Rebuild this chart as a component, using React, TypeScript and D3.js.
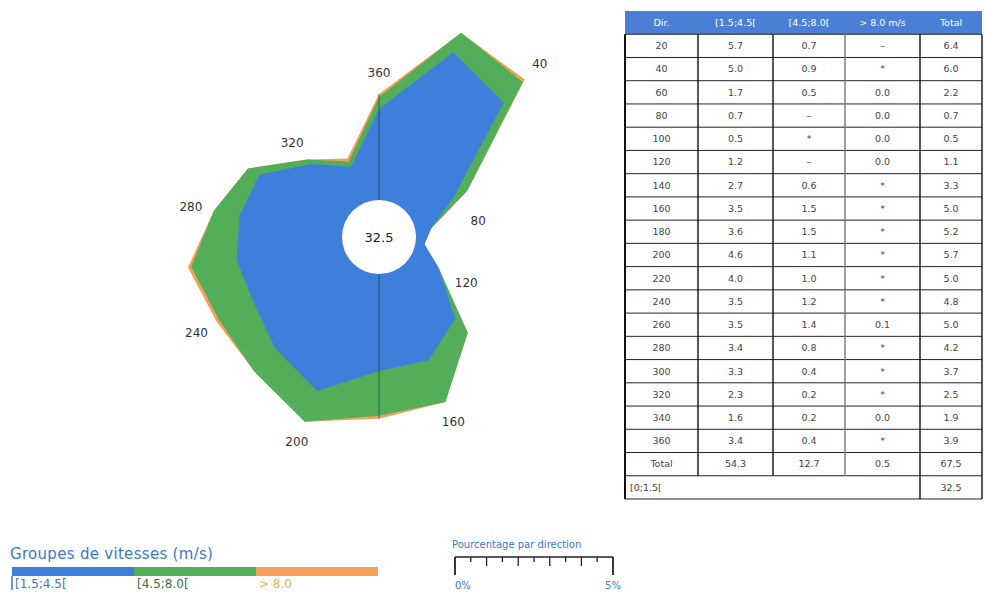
import * as d3 from "d3";

// wind rose: share (%) of time per direction and speed group
const directions = [20, 40, 60, 80, 100, 120, 140, 160, 180, 200, 220, 240, 260, 280, 300, 320, 340, 360];
const lowCol = ["5.7", "5.0", "1.7", "0.7", "0.5", "1.2", "2.7", "3.5", "3.6", "4.6", "4.0", "3.5", "3.5", "3.4", "3.3", "2.3", "1.6", "3.4"];
const midCol = ["0.7", "0.9", "0.5", "–", "*", "–", "0.6", "1.5", "1.5", "1.1", "1.0", "1.2", "1.4", "0.8", "0.4", "0.2", "0.2", "0.4"];
const highCol = ["–", "*", "0.0", "0.0", "0.0", "0.0", "*", "*", "*", "*", "*", "*", "0.1", "*", "*", "*", "0.0", "*"];
const totalCol = ["6.4", "6.0", "2.2", "0.7", "0.5", "1.1", "3.3", "5.0", "5.2", "5.7", "5.0", "4.8", "5.0", "4.2", "3.7", "2.5", "1.9", "3.9"];
const totalRow = ["Total", "54.3", "12.7", "0.5", "67.5"];
const calmLabel = "[0;1.5[";
const calmValue = "32.5";
const headers = ["Dir.", "[1.5;4.5[", "[4.5;8.0[", "> 8.0 m/s", "Total"];
const groups = ["[1.5;4.5[", "[4.5;8.0[", "> 8.0"];
const colors = ["#3f7fdc", "#52ae58", "#f4a05a"];
const labelColors = ["#3a78c8", "#3f6b45", "#e6b04a"];

const num = (s: string) => (isNaN(+s) ? 0 : +s);

const cx = 379;
const cy = 237;
// the scanned rose is a bit wider than tall
const sx = 1.06;
const sy = 0.96;
const r = d3.scaleLinear().domain([0, 5]).range([28, 28 + 5 * 31]);

type Pt = { dir: number; v: number };

const App = () => {
  const low = lowCol.map(num);
  const lowMid = lowCol.map((d, i) => num(d) + num(midCol[i]));
  const tot = totalCol.map(num);

  const pos = (dir: number, rad: number) => {
    const a = (dir * Math.PI) / 180;
    return [Math.sin(a) * rad * sx, -Math.cos(a) * rad * sy];
  };

  const line = d3
    .line<Pt>()
    .x((d) => pos(d.dir, r(d.v))[0])
    .y((d) => pos(d.dir, r(d.v))[1])
    .curve(d3.curveLinearClosed);

  const layers = [tot, lowMid, low].map((vals) =>
    line(directions.map((dir, i) => ({ dir, v: vals[i] }))) ?? ""
  );
  const layerColors = [colors[2], colors[1], colors[0]];

  // table layout
  const colEdges = [625, 698, 773, 845, 920, 982];
  const rowKeys = ["head", ...directions.map(String), "total", "calm"];
  const y = d3.scaleBand().domain(rowKeys).range([11, 499]);
  const bh = y.bandwidth();
  const colMid = (i: number) => (colEdges[i] + colEdges[i + 1]) / 2;
  const rows = directions.map((d, i) => [String(d), lowCol[i], midCol[i], highCol[i], totalCol[i]]);

  // legend scales
  const legendX = d3.scaleBand().domain(groups).range([12, 378]);
  const pct = d3.scaleLinear().domain([0, 5]).range([455, 613]);
  const pctTicks = d3.range(0, 5.01, 0.5);

  const i360 = directions.indexOf(360);
  const i180 = directions.indexOf(180);

  return (
    <svg
      width={985}
      height={592}
      viewBox="0 0 985 592"
      style={{ position: "absolute", left: 0, top: 0, background: "#fff" }}
      fontFamily="DejaVu Sans, sans-serif"
    >
      {/* rose */}
      <g transform={`translate(${cx},${cy})`}>
        {layers.map((d, i) => (
          <path key={i} d={d} fill={layerColors[i]} />
        ))}
        <line
          x1={0}
          y1={pos(360, r(tot[i360]))[1]}
          x2={0}
          y2={pos(180, r(tot[i180]))[1]}
          stroke="#1f3a2a"
          strokeOpacity={0.7}
          strokeWidth={1}
        />
        <circle r={37} fill="#fff" />
        <text textAnchor="middle" dy="0.35em" fontSize={13} fill="#222">
          {calmValue}
        </text>
        {directions
          .map((dir, i) => ({ dir, i }))
          .filter((d) => d.dir % 40 === 0)
          .map(({ dir, i }) => {
            const [x, yy] = pos(dir, Math.max(r(tot[i]) + 22, 95));
            return (
              <text key={dir} x={x} y={yy} textAnchor="middle" dy="0.35em" fontSize={12} fill="#333">
                {dir}
              </text>
            );
          })}
      </g>

      {/* table */}
      <g fontSize={9.5} fill="#444">
        <rect x={colEdges[0]} y={y("head")} width={colEdges[5] - colEdges[0]} height={bh} fill="#4b7fd5" />
        {headers.map((h, i) => (
          <text key={h} x={colMid(i)} y={(y("head") ?? 0) + bh / 2} dy="0.35em" textAnchor="middle" fill="#fff">
            {h}
          </text>
        ))}
        {[...rows, totalRow].map((row, ri) => {
          const key = ri < rows.length ? String(directions[ri]) : "total";
          const yy = y(key) ?? 0;
          return (
            <g key={key}>
              {row.map((cell, ci) => (
                <text key={ci} x={colMid(ci)} y={yy + bh / 2} dy="0.35em" textAnchor="middle">
                  {cell}
                </text>
              ))}
            </g>
          );
        })}
        <text x={colEdges[0] + 5} y={(y("calm") ?? 0) + bh / 2} dy="0.35em">
          {calmLabel}
        </text>
        <text x={colMid(4)} y={(y("calm") ?? 0) + bh / 2} dy="0.35em" textAnchor="middle">
          {calmValue}
        </text>
        {/* grid lines */}
        {rowKeys.slice(1).map((k) => (
          <line
            key={k}
            x1={colEdges[0]}
            x2={colEdges[5]}
            y1={y(k)}
            y2={y(k)}
            stroke="#222"
            strokeWidth={1}
          />
        ))}
        <line x1={colEdges[0]} x2={colEdges[5]} y1={499} y2={499} stroke="#222" />
        {colEdges.map((x, i) => (
          <line
            key={i}
            x1={x}
            x2={x}
            y1={(y("head") ?? 0) + bh}
            y2={i >= 1 && i <= 3 ? y("calm") : 499}
            stroke={i === 3 ? "#777" : "#111"}
            strokeWidth={i === 0 ? 2 : 1.4}
          />
        ))}
      </g>

      {/* speed group legend */}
      <text x={10} y={559} fontSize={15} fill="#3a78c8" letterSpacing={0.3}>
        Groupes de vitesses (m/s)
      </text>
      {groups.map((g, i) => (
        <g key={g}>
          <rect x={legendX(g)} y={567} width={legendX.bandwidth()} height={9} fill={colors[i]} />
          <text x={(legendX(g) ?? 0) + 3} y={588} fontSize={12} fill={labelColors[i]}>
            {g}
          </text>
        </g>
      ))}
      <line x1={12} x2={12} y1={576} y2={590} stroke="#3a78c8" strokeWidth={1.5} />

      {/* percentage scale */}
      <text x={452} y={548} fontSize={10} fill="#3a78c8">
        Pourcentage par direction
      </text>
      <line x1={pct(0)} x2={pct(5)} y1={557} y2={557} stroke="#222" strokeWidth={1.5} />
      {pctTicks.map((t) => {
        const end = t === 0 || t === 5;
        const len = end ? 18 : Number.isInteger(t) ? 9 : 5;
        return (
          <line key={t} x1={pct(t)} x2={pct(t)} y1={557} y2={557 + len} stroke="#222" strokeWidth={end ? 1.8 : 1.3} />
        );
      })}
      {[0, 5].map((t) => (
        <text key={t} x={pct(t)} y={589} fontSize={10} fill="#3a78c8" textAnchor={t === 0 ? "start" : "middle"}>
          {`${t}%`}
        </text>
      ))}
    </svg>
  );
};

export default App;
